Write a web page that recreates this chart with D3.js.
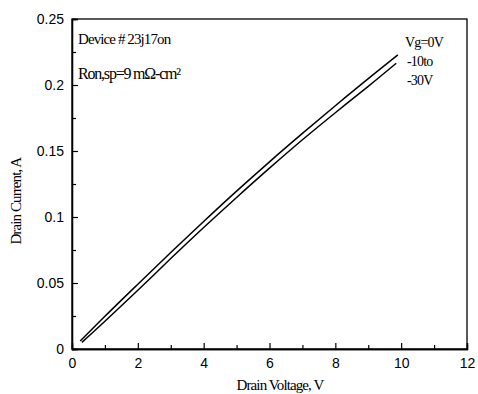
<!DOCTYPE html>
<html>
<head>
<meta charset="utf-8">
<script src="https://cdn.jsdelivr.net/npm/d3@7"></script>
<style>
  body { margin: 0; background: #fff; }
  svg { display: block; }
</style>
</head>
<body>
<div id="container"></div>
<script>
/* CONSTANTS AND GLOBALS */
const width = 478,
  height = 394,
  margin = {top: 19, bottom: 45, left: 72, right: 11};

/* DATA */
const vgZeroX = [0.25, 1, 2, 3, 4, 5, 6, 7, 8, 9, 9.9];
const vgZeroY = [0.006, 0.0248, 0.0491, 0.0731, 0.0966, 0.1196, 0.1418, 0.1633, 0.1843, 0.2048, 0.2228];
const vgNegX = [0.3, 1, 2, 3, 4, 5, 6, 7, 8, 9, 9.85];
const vgNegY = [0.005, 0.021, 0.0445, 0.0685, 0.092, 0.1148, 0.137, 0.1585, 0.179, 0.199, 0.2165];
const xTicks = [0, 2, 4, 6, 8, 10, 12];
const yTicks = [0, 0.05, 0.1, 0.15, 0.2, 0.25];
const legendLines = ["Vg=0V", "-10to", "-30V"];

const series = [
  {name: "Vg=0V", pts: vgZeroX.map((x, i) => [x, vgZeroY[i]])},
  {name: "Vg=-10 to -30V", pts: vgNegX.map((x, i) => [x, vgNegY[i]])}
];

/* SCALES */
const xScale = d3.scaleLinear()
  .domain([0, 12])
  .range([margin.left, width - margin.right]);

const yScale = d3.scaleLinear()
  .domain([0, 0.25])
  .range([height - margin.bottom, margin.top]);

/* HTML ELEMENTS */
const svg = d3.select("#container")
  .append("svg")
  .attr("width", width)
  .attr("height", height);

// frame
svg.append("rect")
  .attr("x", xScale(0))
  .attr("y", yScale(0.25))
  .attr("width", xScale(12) - xScale(0))
  .attr("height", yScale(0) - yScale(0.25))
  .attr("fill", "none")
  .attr("stroke", "#000")
  .attr("stroke-width", 1.3);

// axes, ticks pointing inward
const xAxis = d3.axisBottom(xScale).tickValues(xTicks).tickSize(-6).tickPadding(11)
  .tickFormat(d3.format("d"));
const xMinor = d3.axisBottom(xScale).tickValues(d3.range(1, 12, 2)).tickSize(-4).tickFormat("");
const yAxis = d3.axisLeft(yScale).tickValues(yTicks).tickSize(-6).tickPadding(8)
  .tickFormat(d => d === 0 ? "0" : String(d));
const yMinor = d3.axisLeft(yScale).tickValues(d3.range(0.025, 0.25, 0.05)).tickSize(-4).tickFormat("");

const gx = svg.append("g")
  .attr("transform", `translate(0,${height - margin.bottom})`)
  .call(xAxis);
svg.append("g")
  .attr("transform", `translate(0,${height - margin.bottom})`)
  .call(xMinor);
const gy = svg.append("g")
  .attr("transform", `translate(${margin.left},0)`)
  .call(yAxis);
svg.append("g")
  .attr("transform", `translate(${margin.left},0)`)
  .call(yMinor);

svg.selectAll(".domain").attr("stroke-width", 1.3);
svg.selectAll(".tick line").attr("stroke-width", 1.2);
svg.selectAll(".tick text")
  .attr("font-family", "Liberation Sans, Arial, sans-serif")
  .attr("font-size", 14)
  .attr("fill", "#000");
gx.selectAll(".tick text").attr("dy", "0.55em");

// curves
const line = d3.line()
  .x(d => xScale(d[0]))
  .y(d => yScale(d[1]))
  .curve(d3.curveCatmullRom);

svg.selectAll("path.curve")
  .data(series)
  .join("path")
  .attr("class", "curve")
  .attr("d", d => line(d.pts))
  .attr("fill", "none")
  .attr("stroke", "#000")
  .attr("stroke-width", 1.5);

// annotations
const serif = "Liberation Serif, Times New Roman, serif";

svg.append("text")
  .attr("x", 78).attr("y", 44)
  .attr("font-family", serif).attr("font-size", 15)
  .attr("letter-spacing", -0.9)
  .text("Device # 23j17on");

svg.append("text")
  .attr("x", 78).attr("y", 79)
  .attr("font-family", serif).attr("font-size", 16)
  .attr("letter-spacing", -1.2)
  .text("Ron,sp=9 mΩ-cm²");

svg.selectAll("text.legend")
  .data(legendLines)
  .join("text")
  .attr("class", "legend")
  .attr("x", (d, i) => i === 0 ? 405 : 407)
  .attr("y", (d, i) => 47 + i * 19)
  .attr("font-family", serif).attr("font-size", 14)
  .attr("letter-spacing", -0.8)
  .text(d => d);

// axis titles
svg.append("text")
  .attr("x", 280).attr("y", 390)
  .attr("text-anchor", "middle")
  .attr("font-family", serif).attr("font-size", 15)
  .attr("letter-spacing", -0.9)
  .text("Drain Voltage, V");

svg.append("text")
  .attr("transform", `translate(21,${yScale(0.112)}) rotate(-90)`)
  .attr("text-anchor", "middle")
  .attr("font-family", serif).attr("font-size", 15)
  .attr("letter-spacing", -0.9)
  .text("Drain Current, A");
</script>
</body>
</html>
